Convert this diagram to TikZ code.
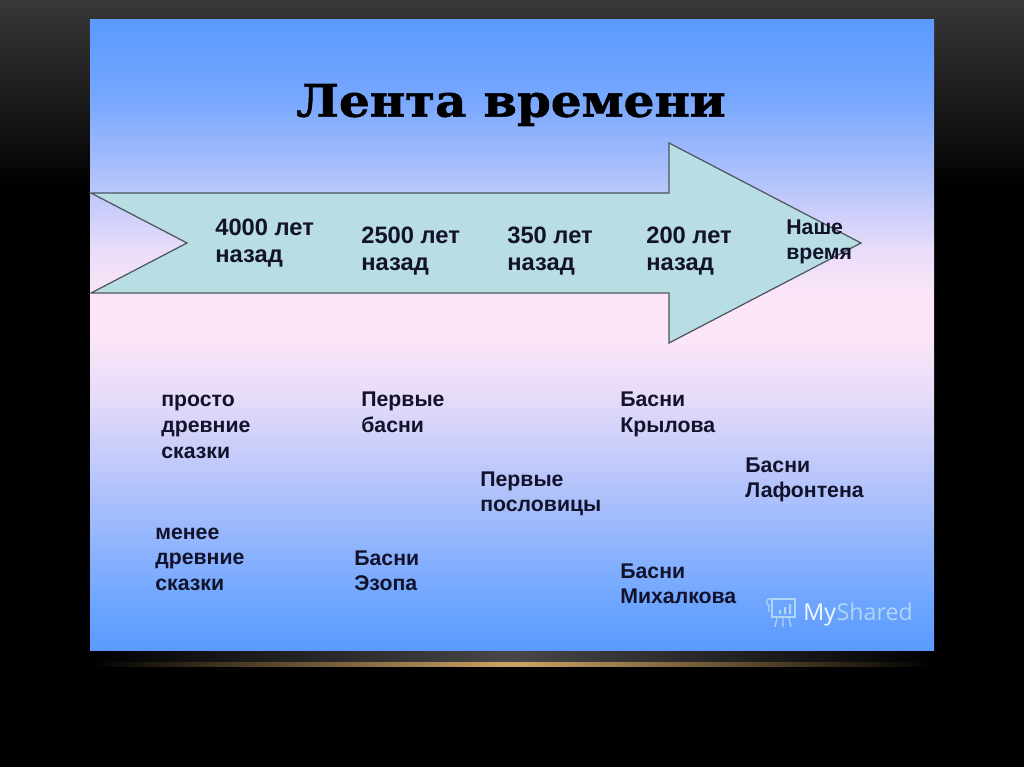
\documentclass[tikz,border=0pt]{standalone}
\usepackage{fontspec}
\setmainfont{Liberation Sans}
\newfontfamily\titlefont[BoldFeatures={FakeBold=1.2}]{DejaVu Serif}
\newfontfamily\markfont{Open Sans}
\usepackage{xcolor}
\definecolor{slideBlue}{HTML}{5B9AFF}
\definecolor{slidePink}{HTML}{FDE6F8}
\definecolor{ribbonFill}{HTML}{B8DDE2}
\definecolor{ribbonLine}{HTML}{4D5560}
\definecolor{inkDark}{HTML}{12122A}
\definecolor{glowGold}{HTML}{CFA565}
\definecolor{markPale}{HTML}{B0D6F5}
\usetikzlibrary{positioning}
\pgfdeclareverticalshading{slideShade}{100bp}{
    color(0bp)=(slideBlue); color(25bp)=(slideBlue);
    color(29bp)=(slideBlue!88!white); color(37bp)=(slideBlue!50!slidePink);
    color(44.9bp)=(slidePink!85!slideBlue); color(50bp)=(slidePink);
    color(52.8bp)=(slidePink); color(56.7bp)=(slidePink!88!slideBlue);
    color(61.5bp)=(slidePink!58!slideBlue); color(68.6bp)=(slideBlue!82!slidePink);
    color(71.8bp)=(slideBlue!92!slidePink); color(75bp)=(slideBlue);
    color(100bp)=(slideBlue)
}

\begin{document}
\begin{tikzpicture}[
    x=0.02cm, y=-0.02cm,
    titleText/.style={
        font=\titlefont\bfseries\fontsize{25.5pt}{30pt}\selectfont,
        text=black, inner sep=0pt, xscale=1.08, transform shape
    },
    timeLabel/.style={
        font=\bfseries\fontsize{13.5pt}{15.6pt}\selectfont,
        text=inkDark, align=left, anchor=north west, inner sep=0pt
    },
    factLabel/.style={
        font=\bfseries\fontsize{12.1pt}{14.6pt}\selectfont,
        text=inkDark, align=left, anchor=north west, inner sep=0pt
    },
    markLine/.style={draw=markPale, line width=0.7pt}
]
    \useasboundingbox (0,0) rectangle (1024,767);

    % Dark surroundings
    \fill[black] (0,0) rectangle (1024,767);
    \shade[top color=black!78, bottom color=black] (0,0) rectangle (1024,190);
    \shade[left color=black, right color=black, middle color=black!72] (90,651) rectangle (934,662);
    \shade[left color=black, right color=black, middle color=glowGold] (90,662) rectangle (934,666.5);

    % Slide panel
    \shade[shading=slideShade] (90,19.4) rectangle (934,650.6);

    % Ribbon arrow
    \draw[fill=ribbonFill, draw=ribbonLine, line width=0.7pt]
        (91,193) -- (669,193) -- (669,143) -- (861,243) -- (669,343)
        -- (669,293) -- (91,293) -- (187,243) -- cycle;

    % Title
    \node[titleText] (titleNode) at (511,105) {Лента времени};

    % Labels on the ribbon
    \node[timeLabel] (time4000) at (215,215.5) {\strut 4000 лет\\назад};
    \node[timeLabel] (time2500) at (361,224) {\strut 2500 лет\\назад};
    \node[timeLabel] (time350) at (507,224) {\strut 350 лет\\назад};
    \node[timeLabel] (time200) at (646,224) {\strut 200 лет\\назад};
    \node[factLabel] (timeNow) at (786,216) {\strut Наше\\время};

    % Labels below the ribbon
    \node[factLabel] (factOldest) at (161,388.5) {\strut просто\\древние\\сказки};
    \node[factLabel] (factOlder) at (155,521) {\strut менее\\древние\\сказки};
    \node[factLabel] (factFirstFables) at (361,388.5) {\strut Первые\\басни};
    \node[factLabel] (factAesop) at (354,547) {\strut Басни\\Эзопа};
    \node[factLabel] (factProverbs) at (480,468) {\strut Первые\\пословицы};
    \node[factLabel] (factKrylov) at (620,388.5) {\strut Басни\\Крылова};
    \node[factLabel] (factMikhalkov) at (620,560) {\strut Басни\\Михалкова};
    \node[factLabel] (factLafontaine) at (745,454) {\strut Басни\\Лафонтена};

    % Watermark
    \draw[markLine] (772,599) -- (795,599) -- (795,617) -- (772,617) -- cycle;
    \draw[markLine] (772,599) .. controls (766,597) and (765,603) .. (769,606) -- (769,612);
    \fill[markPale] (779,610) rectangle (781,614) (784,607) rectangle (786,614) (789,604) rectangle (791,614);
    \draw[markLine] (777,618) -- (775,627) (783,618) -- (783,627) (789,618) -- (791,627);
    \node[font=\markfont\fontsize{13.2pt}{16pt}\selectfont, text=white!85!markPale, inner sep=0pt, anchor=base west] (markMy) at (803,620) {My};
    \node[font=\markfont\fontsize{13.2pt}{16pt}\selectfont, text=markPale, inner sep=0pt, anchor=base west] (markShared) at (markMy.base east) {Shared};
\end{tikzpicture}
\end{document}
